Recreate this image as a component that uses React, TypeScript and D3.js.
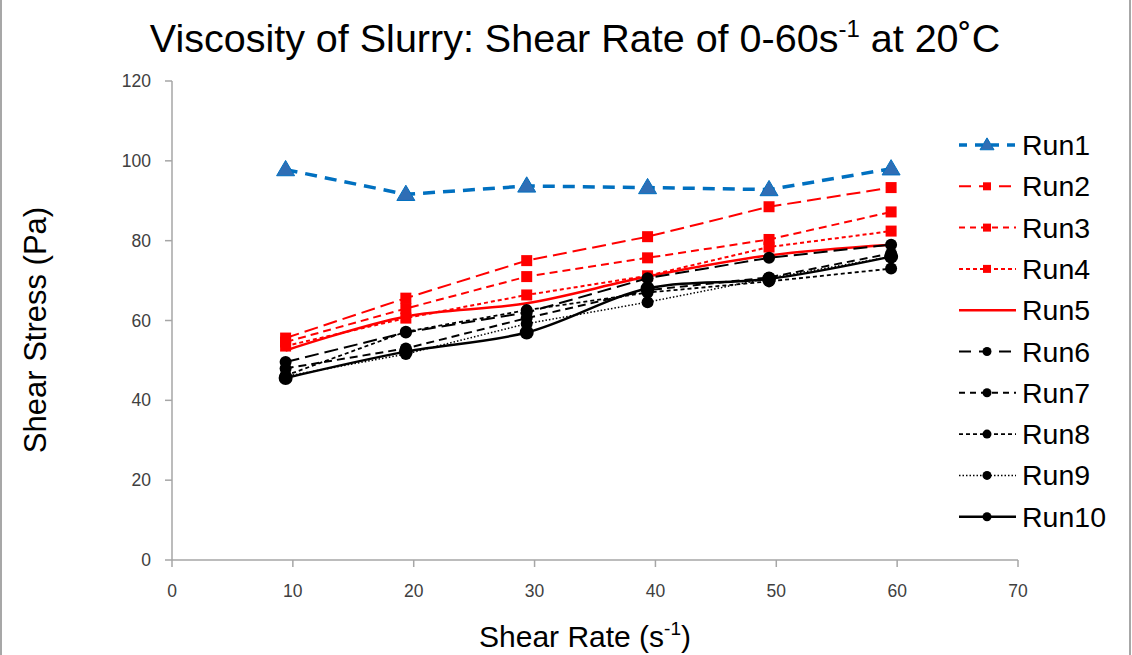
import React from "react";
import * as d3 from "d3";

const shearRates = [9.4, 19.35, 29.35, 39.35, 49.4, 59.5];
const runNames = ["Run1", "Run2", "Run3", "Run4", "Run5", "Run6", "Run7", "Run8", "Run9", "Run10"];
const run1 = [97.8, 91.6, 93.7, 93.3, 92.8, 98.0];
const run2 = [55.6, 65.6, 75.0, 81.0, 88.5, 93.3];
const run3 = [54.6, 63.0, 71.0, 75.7, 80.3, 87.2];
const run4 = [53.6, 60.6, 66.4, 71.2, 78.4, 82.4];
const run5 = [52.5, 61.0, 64.3, 71.0, 76.3, 79.0];
const run6 = [49.6, 57.0, 62.0, 70.6, 75.7, 79.0];
const run7 = [48.0, 53.0, 60.6, 67.6, 70.8, 76.8];
const run8 = [46.2, 57.2, 62.6, 67.0, 69.8, 73.0];
const run9 = [46.0, 51.6, 59.2, 64.6, 70.6, 76.0];
const run10 = [45.6, 52.2, 57.0, 68.0, 70.4, 76.0];
const seriesValues = [run1, run2, run3, run4, run5, run6, run7, run8, run9, run10];
const xTicks = [0, 10, 20, 30, 40, 50, 60, 70];
const yTicks = [0, 20, 40, 60, 80, 100, 120];

type Style = { color: string; width: number; dash: string | null; marker: "tri" | "sq" | "circ" | null; size: number; fill: string; legendDash: string | null; smooth: boolean };
const styles: Style[] = [
  { color: "#0070C0", width: 3.5, dash: "12,8", marker: "tri", size: 9, fill: "#2F6EB5", legendDash: "8,8", smooth: false },
  { color: "#FF0000", width: 2, dash: "14,6", marker: "sq", size: 5.5, fill: "#FF0000", legendDash: "12,8", smooth: false },
  { color: "#FF0000", width: 2, dash: "8,5", marker: "sq", size: 5.5, fill: "#FF0000", legendDash: "6,5", smooth: false },
  { color: "#FF0000", width: 2, dash: "4,3", marker: "sq", size: 5.5, fill: "#FF0000", legendDash: "4,3", smooth: false },
  { color: "#FF0000", width: 2.5, dash: null, marker: null, size: 0, fill: "#FF0000", legendDash: null, smooth: true },
  { color: "#000000", width: 2, dash: "14,6", marker: "circ", size: 6, fill: "#000000", legendDash: "12,8", smooth: false },
  { color: "#000000", width: 2, dash: "8,5", marker: "circ", size: 6, fill: "#000000", legendDash: "6,5", smooth: false },
  { color: "#000000", width: 1.8, dash: "4,3", marker: "circ", size: 6, fill: "#000000", legendDash: "4,3", smooth: false },
  { color: "#000000", width: 1.5, dash: "1.5,2", marker: "circ", size: 6, fill: "#000000", legendDash: "1.5,2", smooth: false },
  { color: "#000000", width: 2.5, dash: null, marker: "circ", size: 7, fill: "#000000", legendDash: null, smooth: true },
];

const W = 1132, H = 655;
const x = d3.scaleLinear().domain([0, 70]).range([172, 1018]);
const y = d3.scaleLinear().domain([0, 120]).range([560, 81]);
const lineStraight = d3.line<[number, number]>().x(d => x(d[0])).y(d => y(d[1]));
const lineSmooth = d3.line<[number, number]>().x(d => x(d[0])).y(d => y(d[1])).curve(d3.curveCatmullRom.alpha(0.5));

function Marker({ kind, cx, cy, size, fill }: { kind: Style["marker"]; cx: number; cy: number; size: number; fill: string }) {
  if (kind === "tri") {
    const h = size * 1.7;
    return <path d={`M${cx},${cy - h * 0.6} L${cx + size},${cy + h * 0.4} L${cx - size},${cy + h * 0.4} Z`} fill={fill} stroke="#0070C0" strokeWidth={1} />;
  }
  if (kind === "sq") return <rect x={cx - size} y={cy - size} width={size * 2} height={size * 2} fill={fill} />;
  if (kind === "circ") return <circle cx={cx} cy={cy} r={size} fill={fill} />;
  return null;
}

export default function App() {
  const font = "'Liberation Sans', Arial, sans-serif";
  const legendY0 = 145, legendStep = 41.3;
  return (
    <div style={{ position: "absolute", left: 0, top: 0 }}>
      <svg width={W} height={H} style={{ display: "block", background: "#fff" }}>
        <rect x={1} y={-2} width={W - 3} height={H + 4} fill="#fff" stroke="#8a8a8a" strokeWidth={1.5} />
        <text x={575} y={52} textAnchor="middle" fontFamily={font} fontSize={39.5} fill="#000">
          Viscosity of Slurry: Shear Rate of 0-60s<tspan dy={-15} fontSize={24}>-1</tspan><tspan dy={15}> at 20˚C</tspan>
        </text>
        {/* axes */}
        <line x1={x(0)} x2={x(0)} y1={y(120)} y2={y(0)} stroke="#A6A6A6" strokeWidth={1.5} />
        <line x1={x(0)} x2={x(70)} y1={y(0)} y2={y(0)} stroke="#A6A6A6" strokeWidth={1.5} />
        {yTicks.map(t => (
          <g key={"y" + t}>
            <line x1={x(0) - 7} x2={x(0)} y1={y(t)} y2={y(t)} stroke="#A6A6A6" strokeWidth={1.5} />
            <text x={151} y={y(t) + 6} textAnchor="end" fontFamily={font} fontSize={17.5} fill="#404040">{t}</text>
          </g>
        ))}
        {xTicks.map(t => (
          <g key={"x" + t}>
            <line x1={x(t)} x2={x(t)} y1={y(0)} y2={y(0) + 7} stroke="#A6A6A6" strokeWidth={1.5} />
            <text x={x(t)} y={597} textAnchor="middle" fontFamily={font} fontSize={17.5} fill="#404040">{t}</text>
          </g>
        ))}
        <text transform={`translate(46,330) rotate(-90)`} textAnchor="middle" fontFamily={font} fontSize={31} fill="#000">Shear Stress (Pa)</text>
        <text x={585} y={647} textAnchor="middle" fontFamily={font} fontSize={30} fill="#000">
          Shear Rate (s<tspan dy={-12} fontSize={19}>-1</tspan><tspan dy={12}>)</tspan>
        </text>
        {/* series */}
        {seriesValues.map((vals, i) => {
          const s = styles[i];
          const pts = vals.map((v, j) => [shearRates[j], v] as [number, number]);
          const gen = s.smooth ? lineSmooth : lineStraight;
          return (
            <g key={runNames[i]}>
              <path d={gen(pts) || ""} fill="none" stroke={s.color} strokeWidth={s.width} strokeDasharray={s.dash || undefined} />
              {pts.map((p, j) => (
                <Marker key={j} kind={s.marker} cx={x(p[0])} cy={y(p[1])} size={s.size} fill={s.fill} />
              ))}
            </g>
          );
        })}
        {/* legend */}
        {runNames.map((name, i) => {
          const s = styles[i];
          const ly = legendY0 + i * legendStep;
          return (
            <g key={"lg" + name}>
              <line x1={959} x2={1016} y1={ly} y2={ly} stroke={s.color} strokeWidth={s.width} strokeDasharray={s.legendDash || undefined} />
              <Marker kind={s.marker} cx={987} cy={ly} size={s.marker === "tri" ? 7 : s.marker === "sq" ? 4 : 4.5} fill={s.fill} />
              <text x={1022} y={ly + 10} fontFamily={font} fontSize={28.5} fill="#000">{name}</text>
            </g>
          );
        })}
      </svg>
    </div>
  );
}
